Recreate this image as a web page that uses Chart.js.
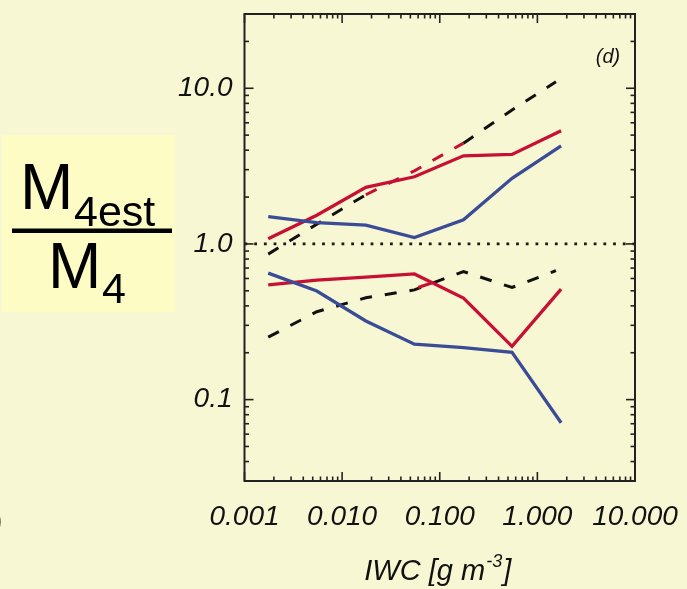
<!DOCTYPE html>
<html>
<head>
<meta charset="utf-8">
<script src="https://cdn.jsdelivr.net/npm/chart.js@4.4.1/dist/chart.umd.min.js"></script>
<style>
  html, body { margin: 0; padding: 0; background: #f8f7d3; }
  #wrap { position: relative; width: 687px; height: 589px; }
</style>
</head>
<body>
<div id="wrap"><canvas id="c"></canvas></div>
<script>
// IWC bin centres [g m^-3]
const IWC = [0.00175, 0.0055, 0.0175, 0.055, 0.175, 0.55, 1.75];
// the dashed reference curves stop slightly earlier
const IWC_REF = [0.00175, 0.0055, 0.0175, 0.055, 0.175, 0.55, 1.55];

// ratio M4est / M4, upper and lower envelopes
const redUpper  = [1.08, 1.53, 2.31, 2.70, 3.68, 3.76, 5.33];
const blueUpper = [1.50, 1.37, 1.32, 1.10, 1.43, 2.64, 4.27];
const refUpper  = [0.86, 1.34, 2.07, 2.95, 4.44, 7.25, 11.0];
const redLower  = [0.546, 0.585, 0.612, 0.642, 0.449, 0.220, 0.512];
const blueLower = [0.649, 0.498, 0.320, 0.227, 0.216, 0.201, 0.071];
const refLower  = [0.252, 0.367, 0.451, 0.507, 0.665, 0.525, 0.674];
// short red stroke lying on the lower reference curve
const hookX = [0.0601, 0.0824];
const hookY = [0.525, 0.561];

const X_TICKS  = [0.001, 0.01, 0.1, 1, 10];
const X_LABELS = ['0.001', '0.010', '0.100', '1.000', '10.000'];
const Y_TICKS  = [0.1, 1, 10];
const Y_LABELS = ['0.1', '1.0', '10.0'];
const X_RANGE  = [0.001, 10];
const Y_RANGE  = [0.03, 30];
const UNITY    = [1, 1];

const RED = 'rgb(200,16,52)';
const BLUE = 'rgb(58,76,150)';
const INK = '#111111';
const FAMILY = '"Liberation Sans", Arial, Helvetica, sans-serif';

const pts = (xs, ys) => xs.map((x, i) => ({ x, y: ys[i] }));
const series = (label, xs, ys, color, extra) => Object.assign({
  label, data: pts(xs, ys), borderColor: color, borderWidth: 3.3,
  pointRadius: 0, tension: 0, fill: false, borderCapStyle: 'butt'
}, extra || {});

// keep the plot frame where the layout padding puts it
const noOverhang = s => { s.paddingTop = 0; s.paddingBottom = 0; s.paddingLeft = 0; s.paddingRight = 0; };

// frame, inward log ticks, titles and the ratio label
const decor = {
  id: 'decor',
  beforeDraw(chart) {
    const ctx = chart.ctx;
    ctx.save();
    ctx.fillStyle = '#fdfcc5';
    ctx.fillRect(2, 135, 173, 177);
    ctx.fillStyle = '#000';
    ctx.textAlign = 'left';
    ctx.textBaseline = 'alphabetic';
    ctx.font = '64px ' + FAMILY;
    ctx.fillText('M', 20, 209);
    ctx.fillText('M', 48, 288);
    ctx.font = '43px ' + FAMILY;
    ctx.fillText('4est', 74, 226);
    ctx.fillText('4', 102, 303);
    ctx.fillRect(12, 228.5, 160, 4.5);
    // clipped glyph at the lower left edge
    ctx.fillStyle = '#555';
    ctx.font = 'italic 22px ' + FAMILY;
    ctx.textAlign = 'right';
    ctx.fillText(')', 2, 530);
    ctx.restore();
  },
  afterDatasetsDraw(chart) {
    const ctx = chart.ctx, a = chart.chartArea;
    const xs = chart.scales.x, ys = chart.scales.y;
    ctx.save();
    ctx.strokeStyle = '#222';
    ctx.lineWidth = 1.6;
    const seg = (x1, y1, x2, y2) => { ctx.beginPath(); ctx.moveTo(x1, y1); ctx.lineTo(x2, y2); ctx.stroke(); };
    for (let e = -3; e <= 1; e++) {
      for (let m = 1; m < 10; m++) {
        const v = m * Math.pow(10, e);
        if (v < X_RANGE[0] * 0.999 || v > X_RANGE[1] * 1.001) continue;
        const px = xs.getPixelForValue(v);
        const L = m === 1 ? 9 : 4.5;
        seg(px, a.top, px, a.top + L);
        seg(px, a.bottom, px, a.bottom - L);
      }
    }
    for (let e = -2; e <= 1; e++) {
      for (let m = 1; m < 10; m++) {
        const v = m * Math.pow(10, e);
        if (v < Y_RANGE[0] * 0.999 || v > Y_RANGE[1] * 1.001) continue;
        const py = ys.getPixelForValue(v);
        const L = m === 1 ? 9 : 4.5;
        seg(a.left, py, a.left + L, py);
        seg(a.right, py, a.right - L, py);
      }
    }
    ctx.lineWidth = 2;
    ctx.strokeRect(a.left, a.top, a.right - a.left, a.bottom - a.top);

    // panel tag
    ctx.fillStyle = INK;
    ctx.font = 'italic 20px ' + FAMILY;
    ctx.textAlign = 'center';
    ctx.textBaseline = 'alphabetic';
    ctx.fillText('(d)', 608, 63);

    // x axis title with superscript
    const big = 'italic 29px ' + FAMILY, small = 'italic 18px ' + FAMILY;
    const t1 = 'IWC [g m', t2 = '-3', t3 = ']';
    ctx.font = big; const w1 = ctx.measureText(t1).width, w3 = ctx.measureText(t3).width;
    ctx.font = small; const w2 = ctx.measureText(t2).width;
    const cx = (a.left + a.right) / 2 - 2;
    let x0 = cx - (w1 + w2 + 2 + w3) / 2;
    const base = 580;
    ctx.textAlign = 'left';
    ctx.font = big; ctx.fillText(t1, x0, base);
    ctx.font = small; ctx.fillText(t2, x0 + w1 + 1, base - 13);
    ctx.font = big; ctx.fillText(t3, x0 + w1 + w2 + 2, base);
    ctx.restore();
  }
};

const tickFont = { family: FAMILY, style: 'italic', size: 28 };

new Chart(document.getElementById('c'), {
  type: 'line',
  data: {
    datasets: [
      series('unity', X_RANGE, UNITY, '#1a1a1a', { borderDash: [2.8, 6.9], borderWidth: 2.8, order: 6 }),
      series('ref upper', IWC_REF, refUpper, INK, {
        borderDash: [12, 13], borderWidth: 3, order: 5,
        segment: { borderColor: c => (c.p0DataIndex === 2 || c.p0DataIndex === 3) ? RED : undefined }
      }),
      series('ref lower', IWC_REF, refLower, INK, { borderDash: [12, 13], borderWidth: 3, order: 5 }),
      series('hook', hookX, hookY, RED, { order: 4 }),
      series('red upper', IWC, redUpper, RED, { order: 3 }),
      series('red lower', IWC, redLower, RED, { order: 3 }),
      series('blue upper', IWC, blueUpper, BLUE, { order: 2 }),
      series('blue lower', IWC, blueLower, BLUE, { order: 2 })
    ]
  },
  options: {
    responsive: true,
    maintainAspectRatio: false,
    devicePixelRatio: 1,
    animation: false,
    layout: { padding: { left: 0, right: 52, top: 14, bottom: 0 } },
    plugins: { legend: { display: false }, tooltip: { enabled: false } },
    scales: {
      x: {
        type: 'logarithmic', position: 'bottom', min: X_RANGE[0], max: X_RANGE[1],
        afterBuildTicks: s => { s.ticks = X_TICKS.map(v => ({ value: v })); },
        afterFit: s => { s.height = 108; noOverhang(s); },
        ticks: { autoSkip: false, maxRotation: 0, minRotation: 0, padding: 19, color: INK, font: tickFont,
                 callback: (v, i) => X_LABELS[i] },
        grid: { display: false, drawTicks: false },
        border: { display: false }
      },
      y: {
        type: 'logarithmic', position: 'left', min: Y_RANGE[0], max: Y_RANGE[1],
        afterBuildTicks: s => { s.ticks = Y_TICKS.map(v => ({ value: v })); },
        afterFit: s => { s.width = 244.5; noOverhang(s); },
        ticks: { autoSkip: false, padding: 12, color: INK, font: tickFont,
                 callback: (v, i) => Y_LABELS[i] },
        grid: { display: false, drawTicks: false },
        border: { display: false }
      }
    }
  },
  plugins: [decor]
});
</script>
</body>
</html>
